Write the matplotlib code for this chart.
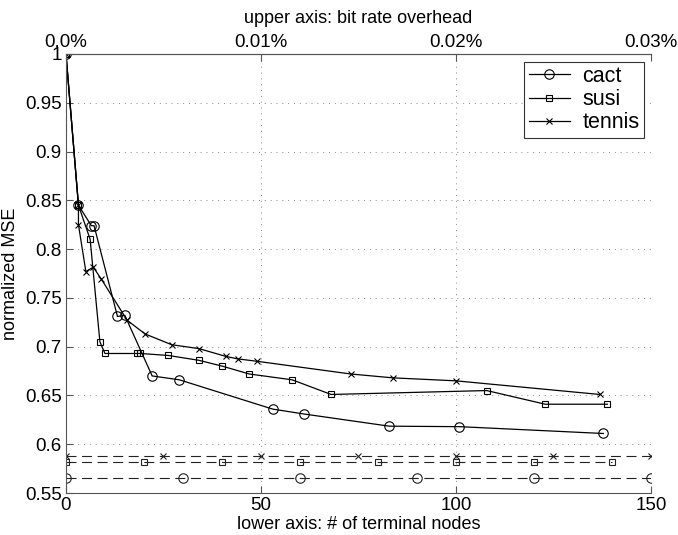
import matplotlib.pyplot as plt
from matplotlib.ticker import FormatStrFormatter

plt.rcParams['font.family'] = ['Liberation Sans', 'DejaVu Sans']

# main curves: normalized MSE vs. number of terminal nodes
cact_x = [0, 3.2, 6.5, 7.2, 13.2, 15.1, 22.1, 29.1, 53.0, 61.0, 82.9, 100.9, 137.8]
cact_y = [1.0, 0.845, 0.824, 0.824, 0.731, 0.732, 0.670, 0.666, 0.636, 0.631, 0.6185, 0.618, 0.611]

susi_x = [0, 3.2, 6.2, 8.7, 10.0, 18.3, 19.1, 26.2, 34.1, 40.1, 47.0, 58.0, 68.0, 107.9, 122.9, 138.8]
susi_y = [1.0, 0.845, 0.810, 0.705, 0.693, 0.693, 0.693, 0.691, 0.686, 0.680, 0.672, 0.666, 0.651, 0.655, 0.641, 0.641]

tennis_x = [0, 3.2, 3.2, 5.1, 7.0, 9.1, 15.7, 20.3, 27.1, 34.1, 41.0, 44.0, 49.0, 73.0, 83.9, 99.9, 136.9]
tennis_y = [1.0, 0.845, 0.825, 0.777, 0.7815, 0.769, 0.727, 0.713, 0.702, 0.698, 0.690, 0.6875, 0.685, 0.672, 0.668, 0.665, 0.651]

# dashed reference levels
cact_ref_x = [0, 30, 60, 90, 120, 150]
cact_ref = 0.565
susi_ref_x = [0, 20, 40, 60, 80, 100, 120, 140]
susi_ref = 0.582
tennis_ref_x = [0, 25, 50, 75, 100, 125, 150]
tennis_ref = 0.588

top_ticks = [0, 50, 100, 150]
top_labels = ['0.0%', '0.01%', '0.02%', '0.03%']

fig = plt.figure(figsize=(6.78, 5.35), dpi=100)
ax = fig.add_axes([0.0973, 0.0785, 0.8628, 0.8206])

lw = 0.9
circ = dict(marker='o', ms=6.8, mfc='none', mew=0.8)
sq = dict(marker='s', ms=4.8, mfc='none', mew=0.8)
cross = dict(marker='x', ms=4, mew=0.8)

ax.plot(cact_x, cact_y, color='black', lw=lw, label='cact', **circ)
ax.plot(susi_x, susi_y, color='black', lw=lw, label='susi', **sq)
ax.plot(tennis_x, tennis_y, color='black', lw=lw, label='tennis', **cross)

ax.plot(cact_ref_x, [cact_ref] * len(cact_ref_x), color='#222222', lw=0.8, dashes=(9, 5), **circ)
ax.plot(susi_ref_x, [susi_ref] * len(susi_ref_x), color='#222222', lw=0.8, dashes=(9, 5), **sq)
ax.plot(tennis_ref_x, [tennis_ref] * len(tennis_ref_x), color='#222222', lw=0.8, dashes=(9, 5), **cross)

ax.set_xlim(0, 150)
ax.set_ylim(0.55, 1.0)
ax.set_xticks([0, 50, 100, 150])
ax.set_yticks([0.55, 0.6, 0.65, 0.7, 0.75, 0.8, 0.85, 0.9, 0.95, 1.0])
ax.yaxis.set_major_formatter(FormatStrFormatter('%g'))
ax.grid(True, color='#888888', linestyle=(0, (1, 5)), lw=0.7)
ax.tick_params(direction='in', labelsize=13.5, length=5, color='#555555', pad=3)
ax.set_xlabel('lower axis: # of terminal nodes', fontsize=13, labelpad=1)
ax.set_ylabel('normalized MSE', fontsize=13, labelpad=4)
for side in ['left', 'bottom', 'top']:
    ax.spines[side].set_color('#555555')
ax.spines['right'].set_visible(False)

top = ax.twiny()
top.set_xlim(ax.get_xlim())
top.set_xticks(top_ticks)
top.set_xticklabels(top_labels)
top.tick_params(direction='in', labelsize=13.5, length=5, color='#555555', pad=2)
top.set_xlabel('upper axis: bit rate overhead', fontsize=13, labelpad=8)
for side in ['left', 'bottom', 'right']:
    top.spines[side].set_visible(False)
top.spines['top'].set_color('#555555')

leg = ax.legend(loc='upper right', bbox_to_anchor=(0.988, 0.9825), borderaxespad=0,
                fontsize=15.5, fancybox=False, framealpha=1, edgecolor='#333333',
                handlelength=1.9, handletextpad=0.6, labelspacing=0.1, borderpad=0.2)
leg.get_frame().set_linewidth(0.8)

fig.savefig('out.png', dpi=100)
